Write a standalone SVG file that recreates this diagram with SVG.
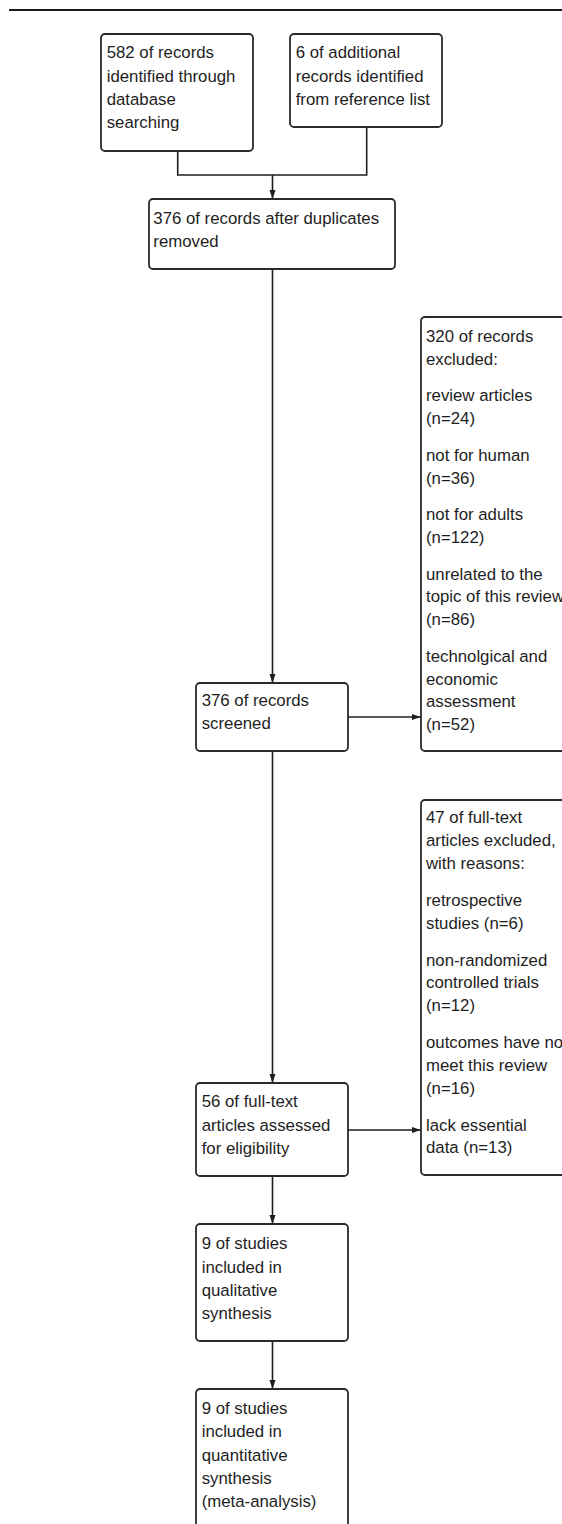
<svg xmlns="http://www.w3.org/2000/svg" width="562" height="1524" viewBox="0 0 562 1524">
<style>
.box{fill:#fff;stroke:#2a2a2a;stroke-width:1.8}
.t{font-family:"Liberation Sans",Arial,sans-serif;font-size:16.8px;fill:#1e1e1e}
.c{fill:none;stroke:#1e1e1e;stroke-width:1.6}
</style>
<defs>
<marker id="ah" markerUnits="userSpaceOnUse" markerWidth="10" markerHeight="7" refX="9" refY="3" orient="auto">
<path d="M0,0 L9,3 L0,6 z" fill="#1e1e1e"/>
</marker>
</defs>
<rect width="562" height="1524" fill="#fff"/>
<line x1="9" y1="10" x2="562" y2="10" stroke="#1a1a1a" stroke-width="2.2"/>
<g id="connectors">
<path class="c" d="M177.7,151 V175 H366.7 V127"/>
<path class="c" d="M272.5,175 V199" marker-end="url(#ah)"/>
<path class="c" d="M272.5,269 V683" marker-end="url(#ah)"/>
<path class="c" d="M347.7,717 H420.7" marker-end="url(#ah)"/>
<path class="c" d="M272.5,751 V1083" marker-end="url(#ah)"/>
<path class="c" d="M347.7,1130 H420.7" marker-end="url(#ah)"/>
<path class="c" d="M272.5,1176 V1224" marker-end="url(#ah)"/>
<path class="c" d="M272.5,1341 V1389" marker-end="url(#ah)"/>
</g>
<g id="n-database">
<rect class="box" x="101" y="34" width="152" height="117" rx="4"/>
<text class="t"><tspan x="106.7" y="58.3">582 of records</tspan><tspan x="106.7" y="81.7">identified through</tspan><tspan x="106.7" y="105">database</tspan><tspan x="106.7" y="128.3">searching</tspan></text>
</g>
<g id="n-additional">
<rect class="box" x="290" y="34" width="152" height="93" rx="4"/>
<text class="t"><tspan x="295.7" y="58.3">6 of additional</tspan><tspan x="295.7" y="81.7">records identified</tspan><tspan x="295.7" y="105">from reference list</tspan></text>
</g>
<g id="n-duplicates">
<rect class="box" x="149" y="199" width="246" height="70" rx="4"/>
<text class="t"><tspan x="153.3" y="224">376 of records after duplicates</tspan><tspan x="153.3" y="247">removed</tspan></text>
</g>
<g id="n-screened">
<rect class="box" x="196" y="683" width="152" height="68" rx="4"/>
<text class="t"><tspan x="201.7" y="706">376 of records</tspan><tspan x="201.7" y="729">screened</tspan></text>
</g>
<g id="n-excluded1">
<rect class="box" x="421" y="317" width="200" height="434" rx="4"/>
<text class="t"><tspan x="426" y="342">320 of records</tspan><tspan x="426" y="364.8">excluded:</tspan><tspan x="426" y="401.4">review articles</tspan><tspan x="426" y="424.2">(n=24)</tspan><tspan x="426" y="460.8">not for human</tspan><tspan x="426" y="483.6">(n=36)</tspan><tspan x="426" y="520.2">not for adults</tspan><tspan x="426" y="543">(n=122)</tspan><tspan x="426" y="579.6">unrelated to the</tspan><tspan x="426" y="602.4">topic of this review</tspan><tspan x="426" y="625.2">(n=86)</tspan><tspan x="426" y="661.8">technolgical and</tspan><tspan x="426" y="684.6">economic</tspan><tspan x="426" y="707.4">assessment</tspan><tspan x="426" y="730.2">(n=52)</tspan></text>
</g>
<g id="n-eligibility">
<rect class="box" x="196" y="1083" width="152" height="93" rx="4"/>
<text class="t"><tspan x="201.7" y="1107.3">56 of full-text</tspan><tspan x="201.7" y="1130.5">articles assessed</tspan><tspan x="201.7" y="1153.5">for eligibility</tspan></text>
</g>
<g id="n-excluded2">
<rect class="box" x="421" y="800" width="200" height="375" rx="4"/>
<text class="t"><tspan x="426" y="823.3">47 of full-text</tspan><tspan x="426" y="846.1">articles excluded,</tspan><tspan x="426" y="868.9">with reasons:</tspan><tspan x="426" y="905.8">retrospective</tspan><tspan x="426" y="928.6">studies (n=6)</tspan><tspan x="426" y="965.5">non-randomized</tspan><tspan x="426" y="988.3">controlled trials</tspan><tspan x="426" y="1011.1">(n=12)</tspan><tspan x="426" y="1048">outcomes have no</tspan><tspan x="426" y="1070.8">meet this review</tspan><tspan x="426" y="1093.6">(n=16)</tspan><tspan x="426" y="1130.5">lack essential</tspan><tspan x="426" y="1153.3">data (n=13)</tspan></text>
</g>
<g id="n-qualitative">
<rect class="box" x="196" y="1224" width="152" height="117" rx="4"/>
<text class="t"><tspan x="201.7" y="1249.3">9 of studies</tspan><tspan x="201.7" y="1272.5">included in</tspan><tspan x="201.7" y="1295.8">qualitative</tspan><tspan x="201.7" y="1318.8">synthesis</tspan></text>
</g>
<g id="n-quantitative">
<rect class="box" x="196" y="1389" width="152" height="160" rx="4"/>
<text class="t"><tspan x="201.7" y="1414">9 of studies</tspan><tspan x="201.7" y="1437.3">included in</tspan><tspan x="201.7" y="1460.6">quantitative</tspan><tspan x="201.7" y="1484">synthesis</tspan><tspan x="201.7" y="1507.3">(meta-analysis)</tspan></text>
</g>
</svg>
